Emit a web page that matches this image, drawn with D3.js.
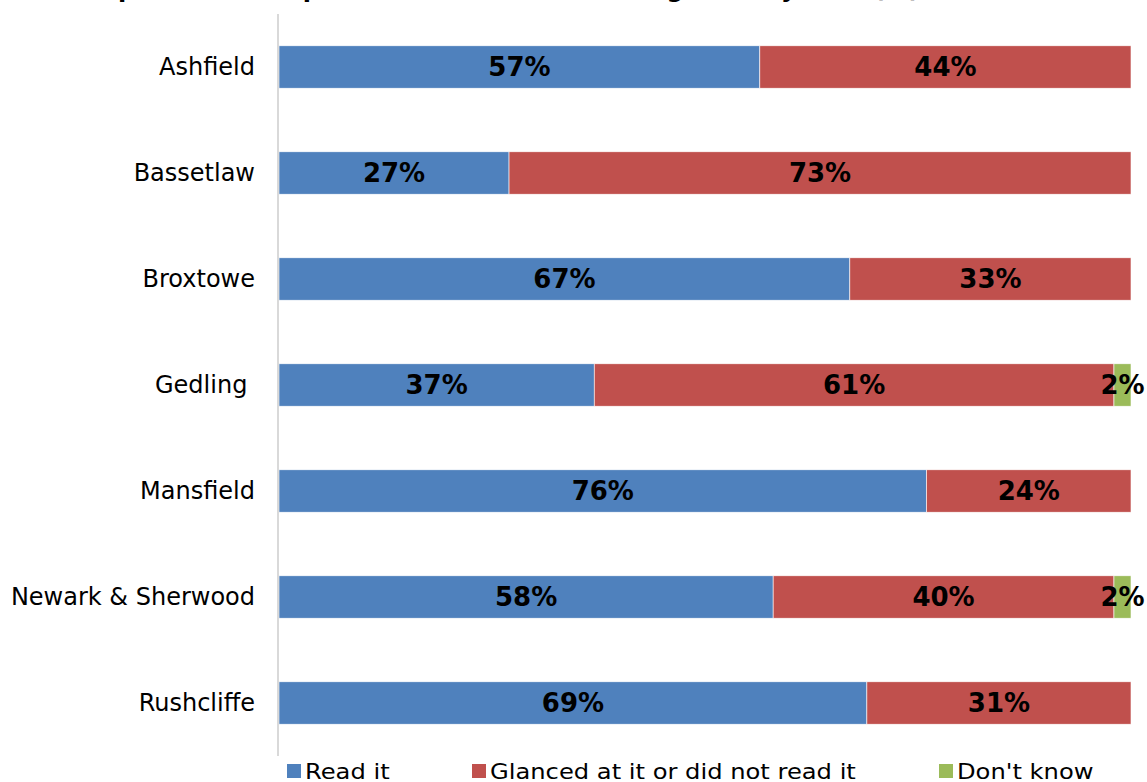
<!DOCTYPE html>
<html>
<head>
<meta charset="utf-8">
<script src="https://cdn.jsdelivr.net/npm/d3@7"></script>
<style>
  html, body { margin: 0; padding: 0; background: #fff; }
  svg { display: block; }
</style>
</head>
<body>
<svg id="chart" width="1147" height="782"></svg>
<script>
// Districts, top to bottom
const districts = ["Ashfield", "Bassetlaw", "Broxtowe", "Gedling ", "Mansfield", "Newark & Sherwood", "Rushcliffe"];
// Response shares per district (%)
const readIt   = [57, 27, 67, 37, 76, 58, 69];
const glanced  = [44, 73, 33, 61, 24, 40, 31];
const dontKnow = [0, 0, 0, 2, 0, 2, 0];

const seriesNames  = ["Read it", "Glanced at it or did not read it", "Don't know"];
const seriesColors = ["#4F81BD", "#C0504D", "#9BBB59"];
const titleText = "Proportion of respondents who read the magazine by area (%)";

const rows = districts.map((d, i) => ({
  district: d, read: readIt[i], glanced: glanced[i], dk: dontKnow[i]
}));
const keys = ["read", "glanced", "dk"];

const svg = d3.select("#chart");
const font = "'DejaVu Sans', Verdana, sans-serif";

const x = d3.scaleLinear().domain([0, 1]).range([279, 1131]);
const y = d3.scaleBand().domain(districts).range([14, 756])
  .paddingInner(0.6).paddingOuter(0.3);

// Title (its upper part sits above the visible area)
svg.append("text")
  .attr("x", 72).attr("y", -3)
  .attr("font-family", font).attr("font-weight", "bold").attr("font-size", 24)
  .attr("fill", "#000")
  .text(titleText);

// Each bar is shown as shares of its own total
const stack = d3.stack().keys(keys).offset(d3.stackOffsetExpand);
const stacked = stack(rows);

const layers = svg.append("g").selectAll("g").data(stacked).join("g")
  .attr("fill", (d, i) => seriesColors[i]);

layers.selectAll("rect").data(d => d.filter(p => p[1] - p[0] > 0)).join("rect")
  .attr("x", p => x(p[0]))
  .attr("y", p => y(p.data.district))
  .attr("width", p => x(p[1]) - x(p[0]))
  .attr("height", y.bandwidth())
  .attr("stroke", "#fff").attr("stroke-width", 0.6);

// Value labels
const labels = svg.append("g");
stacked.forEach((layer, li) => {
  layer.forEach(p => {
    const v = p.data[keys[li]];
    if (!v) return;
    labels.append("text")
      .attr("x", (x(p[0]) + x(p[1])) / 2)
      .attr("y", y(p.data.district) + y.bandwidth() / 2)
      .attr("dy", "0.36em")
      .attr("text-anchor", "middle")
      .attr("font-family", font).attr("font-weight", "bold").attr("font-size", 26)
      .attr("fill", "#000")
      .text(v + "%");
  });
});

// Category axis
const axis = svg.append("g").attr("transform", "translate(278,0)")
  .call(d3.axisLeft(y).tickSize(0).tickPadding(23));
axis.select(".domain").attr("stroke", "#d9d9d9").attr("stroke-width", 2)
  .attr("d", "M0,14V756");
axis.selectAll("text")
  .attr("font-family", font).attr("font-size", 24).attr("fill", "#000")
  .style("white-space", "pre");

// Legend
const legendX = [287, 472, 939];
const legend = svg.append("g");
seriesNames.forEach((name, i) => {
  const tx = legendX[i] + 18;
  legend.append("rect")
    .attr("x", legendX[i]).attr("y", 764).attr("width", 14).attr("height", 14)
    .attr("fill", seriesColors[i]);
  legend.append("text")
    .attr("x", tx).attr("y", 779)
    .attr("font-family", font).attr("font-size", 22).attr("fill", "#000")
    .attr("transform", `translate(${tx},0) scale(1.1,1) translate(${-tx},0)`)
    .text(name);
});
</script>
</body>
</html>
